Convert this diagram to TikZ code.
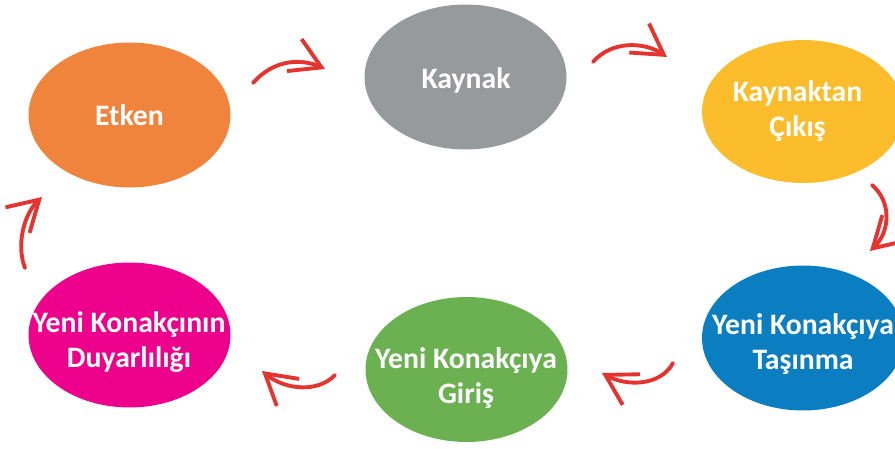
\documentclass[tikz,border=0pt]{standalone}
\usepackage{fontspec}
\setmainfont{Carlito}
\usetikzlibrary{shapes.geometric,arrows.meta}

\definecolor{etkenC}{HTML}{F0843C}
\definecolor{kaynakC}{HTML}{979A9A}
\definecolor{cikisC}{HTML}{FBBD2B}
\definecolor{tasinmaC}{HTML}{0B7EC2}
\definecolor{girisC}{HTML}{6BB152}
\definecolor{duyarC}{HTML}{EC008C}
\definecolor{arrowC}{HTML}{E53330}

\begin{document}
\begin{tikzpicture}[x=0.02cm,y=-0.02cm,
    blob/.style={ellipse,inner sep=0pt,minimum width=4.04cm,minimum height=2.9cm},
    lbl/.style={text=white,font=\fontsize{16.9}{19.8}\selectfont\bfseries,align=center,inner sep=0pt},
    flow/.style={draw=arrowC,line width=2.2pt,line cap=round,-{Straight Barb[length=17pt,width=20pt]}}]

  \useasboundingbox (0,0) rectangle (895,449);

  \node[blob,fill=etkenC] (etken) at (129.5,115) {};
  \node[blob,fill=kaynakC] (kaynak) at (465.5,77) {};
  \node[blob,fill=cikisC,minimum height=2.86cm] (cikis) at (803,111.5) {};
  \node[blob,fill=tasinmaC] (tasinma) at (803,338) {};
  \node[blob,fill=girisC] (giris) at (466.5,369.5) {};
  \node[blob,fill=duyarC] (duyar) at (129.5,335) {};

  \node[lbl] (etkenT) at (129.5,115) {Etken};
  \node[lbl] (kaynakT) at (466,80) {Kaynak};
  \node[lbl] (cikisT) at (797.5,111) {Kaynaktan\\Çıkış};
  \node[lbl] (tasinmaT) at (803,344) {Yeni Konakçıya\\Taşınma};
  \node[lbl] (girisT) at (466,378) {Yeni Konakçıya\\Giriş};
  \node[lbl] (duyarT) at (129,342) {Yeni Konakçının\\Duyarlılığı};

  % arrow ends
  \coordinate (e1) at (253,83);   \coordinate (k1) at (325,69);
  \coordinate (k2) at (593,62);   \coordinate (c2) at (667,57);
  \coordinate (c3) at (872,185);  \coordinate (t3) at (870,251);
  \coordinate (t4) at (673,363);  \coordinate (g4) at (602,373);
  \coordinate (g5) at (335,375);  \coordinate (d5) at (262,371);
  \coordinate (d6) at (25,268);   \coordinate (e6) at (42,197);

  \draw[flow] (e1) .. controls (275,58) and (303,59) .. (k1);
  \draw[flow] (k2) .. controls (612,40) and (645,42) .. (c2);
  \draw[flow] (c3) .. controls (892,202) and (890,232) .. (t3);
  \draw[flow] (t4) .. controls (660,387) and (625,386) .. (g4);
  \draw[flow] (g5) .. controls (318,393) and (285,390) .. (d5);
  \draw[flow] (d6) .. controls (16,245) and (24,214) .. (e6);
\end{tikzpicture}
\end{document}
